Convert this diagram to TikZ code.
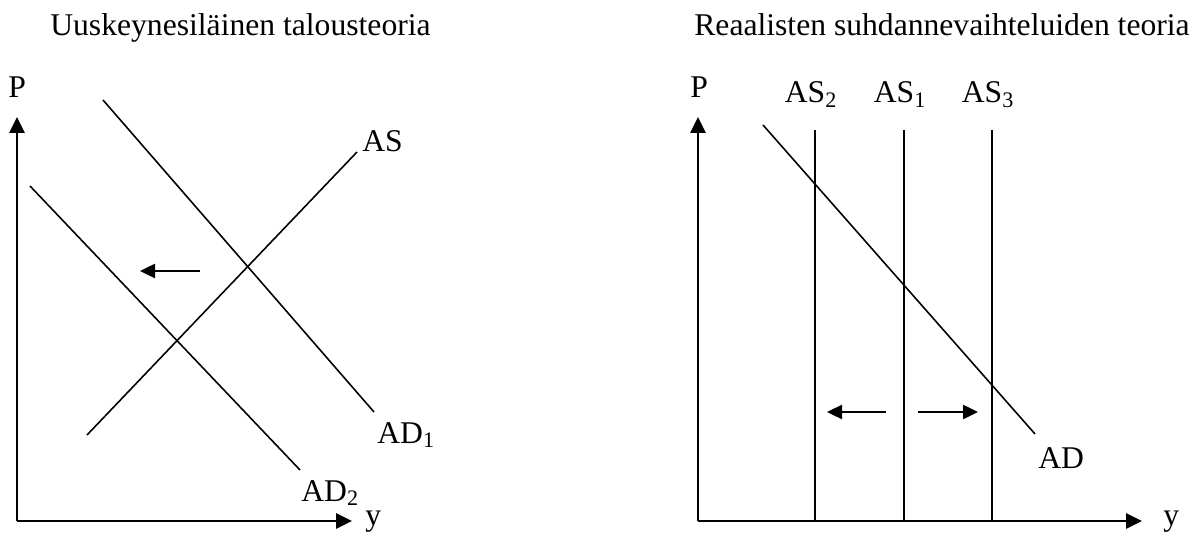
\documentclass[tikz,border=0pt]{standalone}
\usepackage{fontspec}
\setmainfont{Liberation Serif}
\usetikzlibrary{arrows.meta}

\tikzset{
  axis/.style={line width=1.6pt, -{Triangle[length=0.32cm, width=0.3cm]}},
  curve/.style={line width=0.9pt},
  movearrow/.style={line width=1.4pt, -{Triangle[length=0.3cm, width=0.28cm]}},
  lbl/.style={font=\fontsize{18}{21}\selectfont, inner sep=0pt, anchor=base west}
}

\begin{document}
\begin{tikzpicture}[x=0.02cm, y=-0.02cm]
\useasboundingbox (0,0) rectangle (1195,533);

% Left diagram
\node[lbl] (title1) at (50,36) {Uuskeynesiläinen talousteoria};

\coordinate (o1) at (17,521);
\coordinate (ytop1) at (17,117);
\coordinate (xend1) at (352,521);
\draw[axis] (o1) -- (ytop1);
\draw[axis] (o1) -- (xend1);
\node[lbl] (p1) at (8,98) {P};
\node[lbl] (y1) at (365,525) {y};

\coordinate (as1a) at (87,435);
\coordinate (as1b) at (357,152);
\draw[curve] (as1a) -- (as1b);
\node[lbl] (aslbl) at (362,152) {AS};

\coordinate (ad1a) at (103,100);
\coordinate (ad1b) at (374,412);
\draw[curve] (ad1a) -- (ad1b);
\node[lbl] (ad1lbl) at (377,443) {AD\textsubscript{1}};

\coordinate (ad2a) at (30,186);
\coordinate (ad2b) at (300,470);
\draw[curve] (ad2a) -- (ad2b);
\node[lbl] (ad2lbl) at (301,501) {AD\textsubscript{2}};

\coordinate (mv1a) at (200,271);
\coordinate (mv1b) at (140,271);
\draw[movearrow] (mv1a) -- (mv1b);

% Right diagram
\node[lbl, anchor=base east] (title2) at (1190,36) {Reaalisten suhdannevaihteluiden teoria};

\coordinate (o2) at (698,521);
\coordinate (ytop2) at (698,117);
\coordinate (xend2) at (1142,521);
\draw[axis] (o2) -- (ytop2);
\draw[axis] (o2) -- (xend2);
\node[lbl] (p2) at (690,98) {P};
\node[lbl] (y2) at (1163,525) {y};

\foreach \name/\xx/\sub in {as2/815/2, as1/904/1, as3/992/3}{
  \coordinate (\name top) at (\xx,130);
  \coordinate (\name bot) at (\xx,521);
  \draw[curve] (\name top) -- (\name bot);
  \node[lbl, anchor=base] (\name lbl) at (\xx-4,103) {AS\textsubscript{\sub}};
}

\coordinate (ada) at (763,125);
\coordinate (adb) at (1035,434);
\draw[curve] (ada) -- (adb);
\node[lbl] (adlbl) at (1038,468) {AD};

\coordinate (mv2a) at (886,412);
\coordinate (mv2b) at (827,412);
\draw[movearrow] (mv2a) -- (mv2b);
\coordinate (mv3a) at (918,412);
\coordinate (mv3b) at (978,412);
\draw[movearrow] (mv3a) -- (mv3b);
\end{tikzpicture}
\end{document}
